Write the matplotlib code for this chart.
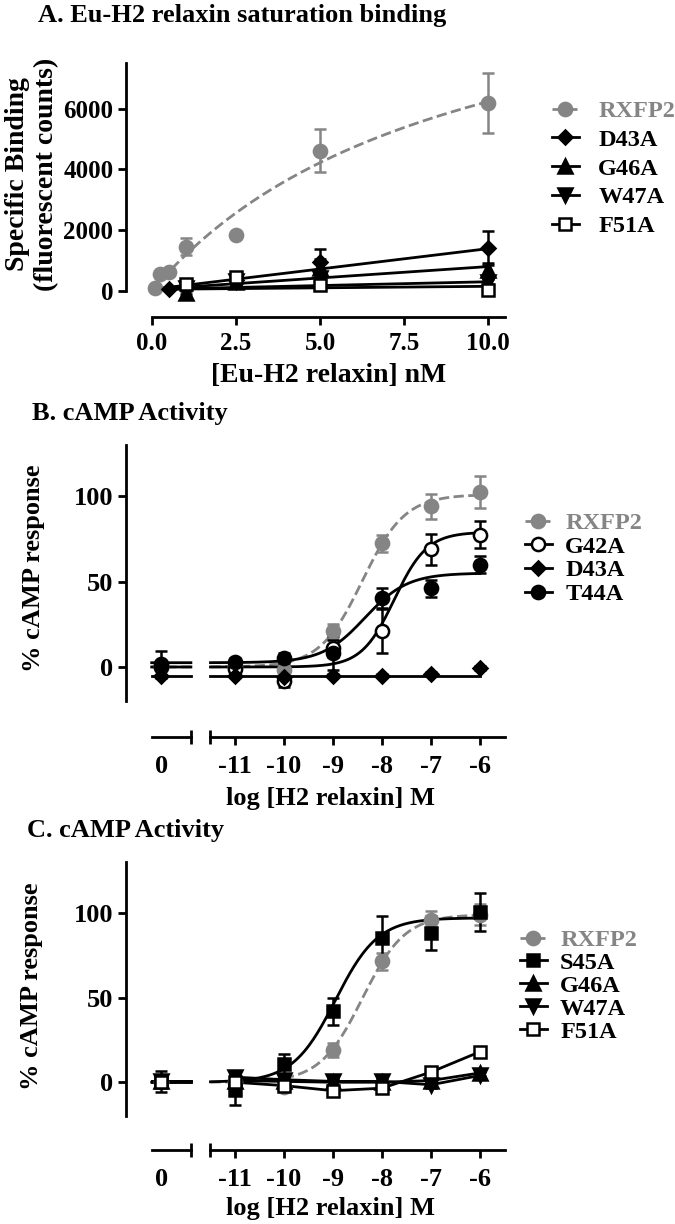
import numpy as np
import matplotlib
matplotlib.use('Agg')
import matplotlib.pyplot as plt
from matplotlib.lines import Line2D
from matplotlib.ticker import FormatStrFormatter

plt.rcParams['font.family'] = ['Liberation Serif', 'DejaVu Serif']
plt.rcParams['font.weight'] = 'bold'
plt.rcParams['font.size'] = 18

grey = '#858585'

# ---------------- A. saturation binding ----------------
a_conc_wt = [0.1, 0.25, 0.5, 1, 2.5, 5, 10]
a_wt = [90, 560, 620, 1460, 1850, 4620, 6190]
a_wt_err = [0, 0, 0, 280, 0, 720, 990]
a_wt_fit = (11900, 9.1)          # Bmax, Kd

a_conc_d43a = [0.5, 1, 2.5, 5, 10]
a_d43a = [50, 120, 350, 950, 1400]
a_d43a_err = [0, 40, 60, 420, 560]
a_conc_mut = [1, 2.5, 5, 10]
a_g46a = [-60, 280, 760, 700]
a_g46a_err = [40, 60, 300, 230]
a_w47a = [80, 320, 430, 300]
a_w47a_err = [40, 60, 150, 80]
a_f51a = [220, 470, 200, 40]
a_f51a_err = [60, 80, 100, 60]
# straight line fits: intercept, slope
a_d43a_fit = (50, 134)
a_g46a_fit = (50, 75)
a_w47a_fit = (50, 25)
a_f51a_fit = (50, 10)

# ---------------- B / C. cAMP ----------------
log_dose = [-11, -10, -9, -8, -7, -6]

b_rxfp2 = [0, -2, 21, 72.5, 94, 102.5]
b_rxfp2_err = [1, 2, 4, 5, 7.5, 9.5]
b_rxfp2_zero = (0, 0)
b_rxfp2_fit = (0, 101, -8.4, 1.0)      # bottom, top, logEC50, hill
b_g42a = [-1, -8, 11, 21, 69, 77.5]
b_g42a_err = [2, 4, 5, 13, 9, 8]
b_g42a_zero = (0, 0)
b_g42a_fit = (0, 79, -7.75, 1.3)
b_d43a = [-5, -6, -5, -5, -4, -0.5]
b_d43a_err = [1, 1, 1, 1, 1, 1]
b_d43a_zero = (-5, 0)
b_d43a_fit = (-5, -5, -8, 1.0)
b_t44a = [3, 5, 8, 40.5, 46, 60]
b_t44a_err = [2, 3, 10, 6, 5, 5]
b_t44a_zero = (1.5, 8)
b_t44a_fit = (2.5, 55, -8.35, 1.0)

c_rxfp2 = [0, -3, 19, 71.5, 96, 99]
c_rxfp2_err = [1, 2, 4, 5, 5, 6]
c_rxfp2_zero = (0, 0)
c_rxfp2_fit = (0, 99, -8.4, 1.0)
c_s45a = [-4.5, 10.5, 42, 85, 88, 100.5]
c_s45a_err = [9, 6, 8, 13, 10, 11]
c_s45a_zero = (0.5, 6)
c_s45a_fit = (0, 97, -8.95, 1.0)
c_g46a = [1, 0.5, 0, 0, 1, 5.5]
c_g46a_err = [3, 2, 2, 2, 2, 2]
c_g46a_zero = (0.5, 2)
c_w47a = [3, 1.5, 0.5, 0.5, -1.5, 4]
c_w47a_err = [3, 2, 2, 2, 2, 2]
c_w47a_zero = (1, 2)
c_f51a = [0, -2, -5, -3.5, 6, 18]
c_f51a_err = [2, 2, 2, 2, 2, 2]
c_f51a_zero = (0, 2)

styles = {
    'RXFP2': dict(color=grey, marker='o', mfc=grey, ls='--', ms=9.5),
    'G42A': dict(color='black', marker='o', mfc='white', ls='-', ms=9.5),
    'D43A': dict(color='black', marker='D', mfc='black', ls='-', ms=7),
    'T44A': dict(color='black', marker='o', mfc='black', ls='-', ms=9.5),
    'S45A': dict(color='black', marker='s', mfc='black', ls='-', ms=9),
    'G46A': dict(color='black', marker='^', mfc='black', ls='-', ms=9.5),
    'W47A': dict(color='black', marker='v', mfc='black', ls='-', ms=9.5),
    'F51A': dict(color='black', marker='s', mfc='white', ls='-', ms=9),
}


def sigmoid(x, bottom, top, logec50, hill):
    return bottom + (top - bottom) / (1 + 10 ** ((logec50 - x) * hill))


def points(ax, x, y, err, name):
    st = styles[name]
    ax.errorbar(x, y, yerr=err, fmt='none', ecolor=st['color'], elinewidth=1.8,
                capsize=4.5, capthick=1.8, zorder=3)
    ax.plot(x, y, ls='none', marker=st['marker'], ms=st['ms'], mfc=st['mfc'],
            mec=st['color'], mew=1.8, zorder=4)


def legend(ax, names, x, y, spacing, textpad):
    handles = []
    for n in names:
        st = styles[n]
        handles.append(Line2D([], [], color=st['color'], ls=st['ls'], lw=2,
                              marker=st['marker'], ms=st['ms'], mfc=st['mfc'],
                              mec=st['color'], mew=1.8))
    leg = ax.legend(handles, names, loc='upper left', bbox_to_anchor=(x / 675, 1 - y / 1224),
                    bbox_transform=fig.transFigure, frameon=False, borderpad=0,
                    borderaxespad=0, handlelength=1.1, handletextpad=textpad,
                    labelspacing=spacing, fontsize=17.5)
    leg.get_texts()[0].set_color(grey)


fig = plt.figure(figsize=(6.75, 12.24), dpi=100)


def box(left, top, right, bottom):
    return [left / 675, 1 - bottom / 1224, (right - left) / 675, (bottom - top) / 1224]


# ---------------- panel A ----------------
ax = fig.add_axes(box(126, 63, 510, 317))
xs = np.linspace(0, 10, 200)
bmax, kd = a_wt_fit
ax.plot(xs, bmax * xs / (kd + xs), color=grey, ls='--', lw=2, zorder=2)
points(ax, a_conc_wt, a_wt, a_wt_err, 'RXFP2')
xl = np.linspace(0.1, 10, 2)
for conc, vals, err, fit, name in [
        (a_conc_d43a, a_d43a, a_d43a_err, a_d43a_fit, 'D43A'),
        (a_conc_mut, a_g46a, a_g46a_err, a_g46a_fit, 'G46A'),
        (a_conc_mut, a_w47a, a_w47a_err, a_w47a_fit, 'W47A'),
        (a_conc_mut, a_f51a, a_f51a_err, a_f51a_fit, 'F51A')]:
    ax.plot(xl, fit[0] + fit[1] * xl, color='black', lw=2, zorder=2)
    points(ax, conc, vals, err, name)
ax.set_xlim(-0.77, 10.65)
ax.set_ylim(-860, 7500)
ax.spines['top'].set_visible(False)
ax.spines['right'].set_visible(False)
ax.spines['left'].set_bounds(0, 7500)
ax.spines['bottom'].set_bounds(0, 10.5)
ax.set_xticks([0, 2.5, 5, 7.5, 10])
ax.xaxis.set_major_formatter(FormatStrFormatter('%.1f'))
ax.set_yticks([0, 2000, 4000, 6000])
for s in ax.spines.values():
    s.set_linewidth(2)
ax.tick_params(width=2, length=6, pad=3, labelsize=18)
ax.tick_params(axis='x', pad=5)
legend(ax, ['RXFP2', 'D43A', 'G46A', 'W47A', 'F51A'], 552, 100, 0.28, 0.8)
fig.text(38 / 675, 1 - 22 / 1224, 'A. Eu-H2 relaxin saturation binding', ha='left',
         va='baseline', fontsize=19)
fig.text(32 / 675, 1 - 174 / 1224, 'Specific Binding\n(fluorescent counts)', rotation=90,
         ha='center', va='center', multialignment='center', linespacing=1.25, fontsize=20)
fig.text(329 / 675, 1 - 376 / 1224, '[Eu-H2 relaxin] nM', ha='center', va='center', fontsize=20)


# ---------------- panels B and C ----------------
def dose_panel(top, axis_y, ylo, series):
    axL = fig.add_axes(box(126, top, 195, axis_y))
    axR = fig.add_axes(box(195, top, 510, axis_y))
    xz = np.linspace(-12.7, -11.9, 2)
    xf = np.linspace(-11.5, -6, 200)
    for vals, err, zero, fit, name in series:
        st = styles[name]
        if fit is not None:
            axL.plot(xz, sigmoid(xz, *fit), color=st['color'], ls=st['ls'], lw=2, zorder=2)
            axR.plot(xf, sigmoid(xf, *fit), color=st['color'], ls=st['ls'], lw=2, zorder=2)
        else:
            axL.plot(xz, [zero[0], zero[0]], color=st['color'], lw=2, zorder=2)
            axR.plot(log_dose, vals, color=st['color'], lw=2, zorder=2)
        points(axL, [-12.5], [zero[0]], [zero[1]], name)
        points(axR, log_dose, vals, err, name)
    for a in (axL, axR):
        a.set_ylim(ylo, 130)
        a.patch.set_visible(False)
        a.spines['top'].set_visible(False)
        a.spines['right'].set_visible(False)
        for s in a.spines.values():
            s.set_linewidth(2)
        a.tick_params(width=2, length=6, labelsize=19)
    axR.spines['left'].set_visible(False)
    axR.tick_params(axis='y', left=False, labelleft=False)
    axL.spines['left'].set_bounds(-20, 130)
    axL.set_yticks([0, 50, 100])
    axL.tick_params(axis='y', pad=3)
    axL.set_xlim(-13.224, -11.816)
    axR.set_xlim(-11.816, -5.388)
    axL.spines['bottom'].set_bounds(-12.7, -11.9)
    axR.spines['bottom'].set_bounds(-11.5, -5.5)
    axL.set_xticks([-12.5], ['0'])
    axL.tick_params(axis='x', which='major', length=0, pad=13)
    axL.set_xticks([-11.9], minor=True)
    axR.set_xticks(log_dose, [str(d) for d in log_dose])
    axR.set_xticks([-11.5], minor=True)
    axR.tick_params(axis='x', which='major', pad=7)
    for a in (axL, axR):
        a.tick_params(axis='x', which='minor', direction='inout', length=10, width=2)
    return axL, axR


axL, axR = dose_panel(445, 737, -41, [
    (b_rxfp2, b_rxfp2_err, b_rxfp2_zero, b_rxfp2_fit, 'RXFP2'),
    (b_g42a, b_g42a_err, b_g42a_zero, b_g42a_fit, 'G42A'),
    (b_d43a, b_d43a_err, b_d43a_zero, b_d43a_fit, 'D43A'),
    (b_t44a, b_t44a_err, b_t44a_zero, b_t44a_fit, 'T44A')])
legend(axR, ['RXFP2', 'G42A', 'D43A', 'T44A'], 525, 512, 0.07, 0.55)
fig.text(32 / 675, 1 - 420 / 1224, 'B. cAMP Activity', ha='left', va='baseline', fontsize=19)
fig.text(34 / 675, 1 - 568 / 1224, '% cAMP response', rotation=90, ha='center', va='center',
         fontsize=19)
fig.text(331 / 675, 1 - 798 / 1224, 'log [H2 relaxin] M', ha='center', va='center', fontsize=19)

axL, axR = dose_panel(862, 1150, -40, [
    (c_rxfp2, c_rxfp2_err, c_rxfp2_zero, c_rxfp2_fit, 'RXFP2'),
    (c_s45a, c_s45a_err, c_s45a_zero, c_s45a_fit, 'S45A'),
    (c_g46a, c_g46a_err, c_g46a_zero, None, 'G46A'),
    (c_w47a, c_w47a_err, c_w47a_zero, None, 'W47A'),
    (c_f51a, c_f51a_err, c_f51a_zero, None, 'F51A')])
legend(axR, ['RXFP2', 'S45A', 'G46A', 'W47A', 'F51A'], 520, 929, 0.04, 0.55)
fig.text(27 / 675, 1 - 837 / 1224, 'C. cAMP Activity', ha='left', va='baseline', fontsize=19)
fig.text(32 / 675, 1 - 986 / 1224, '% cAMP response', rotation=90, ha='center', va='center',
         fontsize=19)
fig.text(331 / 675, 1 - 1209 / 1224, 'log [H2 relaxin] M', ha='center', va='center', fontsize=19)

fig.savefig('out.png', dpi=100)
